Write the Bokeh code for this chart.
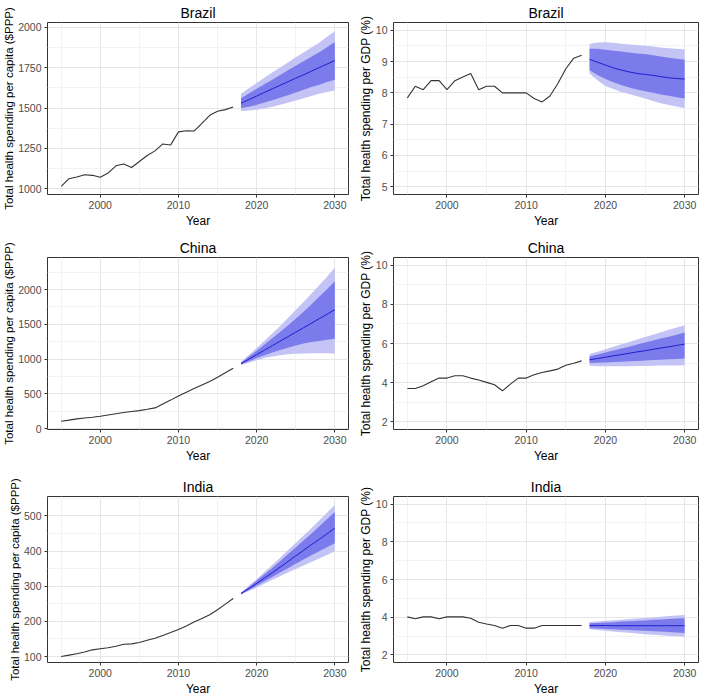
from bokeh.plotting import figure
from bokeh.layouts import gridplot
from bokeh.models import Range1d, FixedTicker
from bokeh.embed import file_html
from bokeh.resources import INLINE

# ---------------- data ----------------
hist_years = list(range(1995, 2018))
fc_years = list(range(2018, 2031))

brazil_pc = [1014, 1061, 1072, 1086, 1082, 1070, 1096, 1141, 1152, 1131, 1168, 1205,
             1234, 1277, 1270, 1352, 1359, 1357, 1404, 1455, 1480, 1490, 1506]
brazil_pc_mean = [1530, 1552, 1574, 1597, 1619, 1641, 1663, 1685, 1706, 1729, 1751, 1773, 1795]
brazil_pc_in_hi = [1561, 1590, 1619, 1648, 1676, 1705, 1734, 1762, 1790, 1818, 1846, 1878, 1910]
brazil_pc_in_lo = [1500, 1508, 1520, 1534, 1548, 1563, 1580, 1597, 1614, 1630, 1645, 1661, 1676]
brazil_pc_out_hi = [1588, 1622, 1655, 1688, 1720, 1752, 1783, 1815, 1845, 1876, 1906, 1942, 1977]
brazil_pc_out_lo = [1482, 1484, 1490, 1497, 1508, 1520, 1533, 1547, 1561, 1575, 1588, 1599, 1609]

brazil_gdp = [7.84, 8.21, 8.10, 8.39, 8.39, 8.10, 8.39, 8.51, 8.62, 8.10, 8.21, 8.21,
              8.00, 8.00, 8.00, 8.00, 7.82, 7.71, 7.90, 8.30, 8.77, 9.11, 9.20]
brazil_gdp_mean = [9.07, 8.98, 8.89, 8.80, 8.73, 8.67, 8.62, 8.59, 8.56, 8.52, 8.48, 8.46, 8.44]
brazil_gdp_in_hi = [9.41, 9.41, 9.38, 9.35, 9.32, 9.29, 9.26, 9.24, 9.20, 9.16, 9.12, 9.09, 9.06]
brazil_gdp_in_lo = [8.72, 8.57, 8.44, 8.34, 8.25, 8.17, 8.11, 8.05, 8.00, 7.95, 7.91, 7.86, 7.82]
brazil_gdp_out_hi = [9.56, 9.61, 9.62, 9.60, 9.57, 9.55, 9.53, 9.51, 9.48, 9.45, 9.43, 9.41, 9.39]
brazil_gdp_out_lo = [8.62, 8.40, 8.22, 8.12, 8.03, 7.96, 7.89, 7.82, 7.74, 7.67, 7.61, 7.56, 7.51]

china_pc = [109, 125, 142, 155, 167, 180, 198, 216, 235, 248, 261, 280,
            300, 355, 412, 470, 525, 580, 630, 680, 740, 805, 870]
china_pc_mean = [936, 1000, 1065, 1129, 1194, 1258, 1323, 1387, 1452, 1516, 1581, 1645, 1710]
china_pc_in_hi = [950, 1035, 1120, 1210, 1300, 1390, 1485, 1580, 1680, 1785, 1895, 2005, 2120]
china_pc_in_lo = [925, 970, 1015, 1055, 1095, 1130, 1165, 1198, 1225, 1245, 1262, 1278, 1292]
china_pc_out_hi = [958, 1060, 1162, 1265, 1370, 1478, 1590, 1705, 1820, 1940, 2060, 2185, 2318]
china_pc_out_lo = [918, 950, 985, 1015, 1040, 1058, 1070, 1078, 1082, 1085, 1086, 1085, 1083]

china_gdp = [3.70, 3.70, 3.84, 4.04, 4.23, 4.23, 4.35, 4.35, 4.23, 4.13, 4.01, 3.89,
             3.58, 3.92, 4.23, 4.23, 4.40, 4.52, 4.60, 4.69, 4.89, 4.99, 5.11]
china_gdp_mean = [5.17, 5.23, 5.30, 5.37, 5.43, 5.50, 5.57, 5.63, 5.70, 5.77, 5.83, 5.90, 5.97]
china_gdp_in_hi = [5.34, 5.44, 5.54, 5.64, 5.74, 5.84, 5.95, 6.05, 6.15, 6.25, 6.35, 6.45, 6.56]
china_gdp_in_lo = [5.00, 5.01, 5.03, 5.05, 5.07, 5.09, 5.11, 5.13, 5.15, 5.17, 5.19, 5.21, 5.23]
china_gdp_out_hi = [5.46, 5.58, 5.71, 5.83, 5.96, 6.08, 6.20, 6.33, 6.45, 6.57, 6.70, 6.82, 6.94]
china_gdp_out_lo = [4.86, 4.84, 4.83, 4.83, 4.83, 4.84, 4.85, 4.85, 4.86, 4.87, 4.88, 4.88, 4.89]

india_pc = [100, 104, 108, 113, 119, 122, 125, 129, 135, 136, 140, 146,
            152, 160, 168, 177, 187, 198, 208, 219, 233, 249, 265]
india_pc_mean = [279, 293, 308, 323, 338, 354, 370, 386, 402, 418, 433, 449, 465]
india_pc_in_hi = [281, 298, 316, 334, 352, 371, 391, 410, 430, 449, 470, 490, 511]
india_pc_in_lo = [277, 289, 301, 314, 326, 339, 351, 364, 376, 388, 399, 411, 422]
india_pc_out_hi = [282, 301, 320, 340, 360, 381, 402, 423, 444, 465, 487, 509, 531]
india_pc_out_lo = [276, 286, 296, 307, 318, 328, 339, 349, 359, 369, 379, 389, 399]

india_gdp = [4.02, 3.92, 4.02, 4.02, 3.92, 4.02, 4.02, 4.02, 3.95, 3.73, 3.64, 3.56,
             3.42, 3.56, 3.56, 3.42, 3.42, 3.56, 3.56, 3.56, 3.56, 3.56, 3.56]
india_gdp_mean = [3.56, 3.56, 3.56, 3.55, 3.55, 3.55, 3.55, 3.55, 3.55, 3.55, 3.55, 3.55, 3.55]
india_gdp_in_hi = [3.68, 3.70, 3.72, 3.74, 3.77, 3.79, 3.81, 3.83, 3.86, 3.88, 3.90, 3.93, 3.95]
india_gdp_in_lo = [3.42, 3.40, 3.38, 3.36, 3.34, 3.32, 3.30, 3.28, 3.26, 3.24, 3.22, 3.19, 3.17]
india_gdp_out_hi = [3.75, 3.78, 3.81, 3.84, 3.87, 3.90, 3.93, 3.96, 3.99, 4.03, 4.06, 4.09, 4.12]
india_gdp_out_lo = [3.36, 3.32, 3.28, 3.25, 3.21, 3.18, 3.14, 3.10, 3.07, 3.04, 3.01, 2.99, 2.97]

x_ticks = [2000, 2010, 2020, 2030]
x_minor = [1995, 2005, 2015, 2025]

PC_LABEL = "Total health spending per capita ($PPP)"
GDP_LABEL = "Total health spending per GDP (%)"

FONT = "Liberation Sans"
OUTER = "#C3C3F5"
INNER = "#7B7BEC"
MEAN = "#1F1FD0"
HIST = "#333333"


def panel(title, ylabel, ylabel_size, hist, mean, in_hi, in_lo, out_hi, out_lo,
          yr, yticks, yminor, w, h, bl, br, bt, bb):
    p = figure(width=w, height=h, output_backend="svg", toolbar_location=None,
               x_range=Range1d(1993.25, 2031.75), y_range=Range1d(*yr),
               min_border_left=bl, min_border_right=br,
               min_border_top=bt, min_border_bottom=bb)
    p.title.text = title
    p.title.align = "center"
    p.title.text_font = FONT
    p.title.text_font_size = "14px"
    p.title.text_font_style = "normal"
    p.title.text_color = "#000000"
    p.title.standoff = 4
    p.title.offset = 0

    p.varea(x=fc_years, y1=out_lo, y2=out_hi, fill_color=OUTER, fill_alpha=1)
    p.varea(x=fc_years, y1=in_lo, y2=in_hi, fill_color=INNER, fill_alpha=1)
    p.line(fc_years, mean, line_color=MEAN, line_width=1)
    p.line(hist_years, hist, line_color=HIST, line_width=1.1)

    p.xaxis.ticker = FixedTicker(ticks=x_ticks, minor_ticks=x_minor)
    p.yaxis.ticker = FixedTicker(ticks=yticks, minor_ticks=yminor)
    p.xaxis.axis_label = "Year"
    p.yaxis.axis_label = ylabel
    for ax in (p.xaxis[0], p.yaxis[0]):
        ax.axis_line_color = None
        ax.major_tick_line_color = "#333333"
        ax.major_tick_out = 3
        ax.major_tick_in = 0
        ax.minor_tick_line_color = None
        ax.major_label_text_font = FONT
        ax.major_label_text_font_size = "10.5px"
        ax.major_label_text_color = "#4D4D4D"
        ax.major_label_standoff = 2
        ax.axis_label_text_font = FONT
        ax.axis_label_text_font_size = "12px"
        ax.axis_label_text_font_style = "normal"
        ax.axis_label_text_color = "#000000"
        ax.axis_label_standoff = 2
    p.yaxis[0].axis_label_standoff = 0
    p.yaxis[0].axis_label_text_font_size = ylabel_size
    for g in (p.xgrid[0], p.ygrid[0]):
        g.grid_line_color = "#E6E6E6"
        g.grid_line_width = 1
        g.minor_grid_line_color = "#F2F2F2"
        g.minor_grid_line_width = 1
    p.outline_line_color = "#333333"
    p.outline_line_width = 1
    p.background_fill_color = "white"
    p.border_fill_color = "white"
    return p


PC_SIZE = "11.5px"
GDP_SIZE = "12px"

p1 = panel("Brazil", PC_LABEL, PC_SIZE, brazil_pc, brazil_pc_mean, brazil_pc_in_hi, brazil_pc_in_lo,
           brazil_pc_out_hi, brazil_pc_out_lo, (963, 2031),
           [1000, 1250, 1500, 1750, 2000], [1125, 1375, 1625, 1875],
           354, 230, 44, 6, 20, 36)
p2 = panel("Brazil", GDP_LABEL, GDP_SIZE, brazil_gdp, brazil_gdp_mean, brazil_gdp_in_hi, brazil_gdp_in_lo,
           brazil_gdp_out_hi, brazil_gdp_out_lo, (4.75, 10.25),
           [5, 6, 7, 8, 9, 10], [5.5, 6.5, 7.5, 8.5, 9.5],
           354, 230, 39, 10, 20, 36)
p3 = panel("China", PC_LABEL, PC_SIZE, china_pc, china_pc_mean, china_pc_in_hi, china_pc_in_lo,
           china_pc_out_hi, china_pc_out_lo, (-10, 2460),
           [0, 500, 1000, 1500, 2000], [250, 750, 1250, 1750, 2250],
           354, 235, 44, 6, 27, 34)
p4 = panel("China", GDP_LABEL, GDP_SIZE, china_gdp, china_gdp_mean, china_gdp_in_hi, china_gdp_in_lo,
           china_gdp_out_hi, china_gdp_out_lo, (1.6, 10.4),
           [2, 4, 6, 8, 10], [3, 5, 7, 9],
           354, 235, 39, 10, 27, 34)
p5 = panel("India", PC_LABEL, PC_SIZE, india_pc, india_pc_mean, india_pc_in_hi, india_pc_in_lo,
           india_pc_out_hi, india_pc_out_lo, (83, 555),
           [100, 200, 300, 400, 500], [150, 250, 350, 450, 550],
           354, 233, 38, 6, 31, 31)
p6 = panel("India", GDP_LABEL, GDP_SIZE, india_gdp, india_gdp_mean, india_gdp_in_hi, india_gdp_in_lo,
           india_gdp_out_hi, india_gdp_out_lo, (1.6, 10.4),
           [2, 4, 6, 8, 10], [3, 5, 7, 9],
           354, 233, 38, 1, 31, 31)

grid = gridplot([[p1, p2], [p3, p4], [p5, p6]], toolbar_location=None)

open("out.html", "w").write(file_html(grid, INLINE))
